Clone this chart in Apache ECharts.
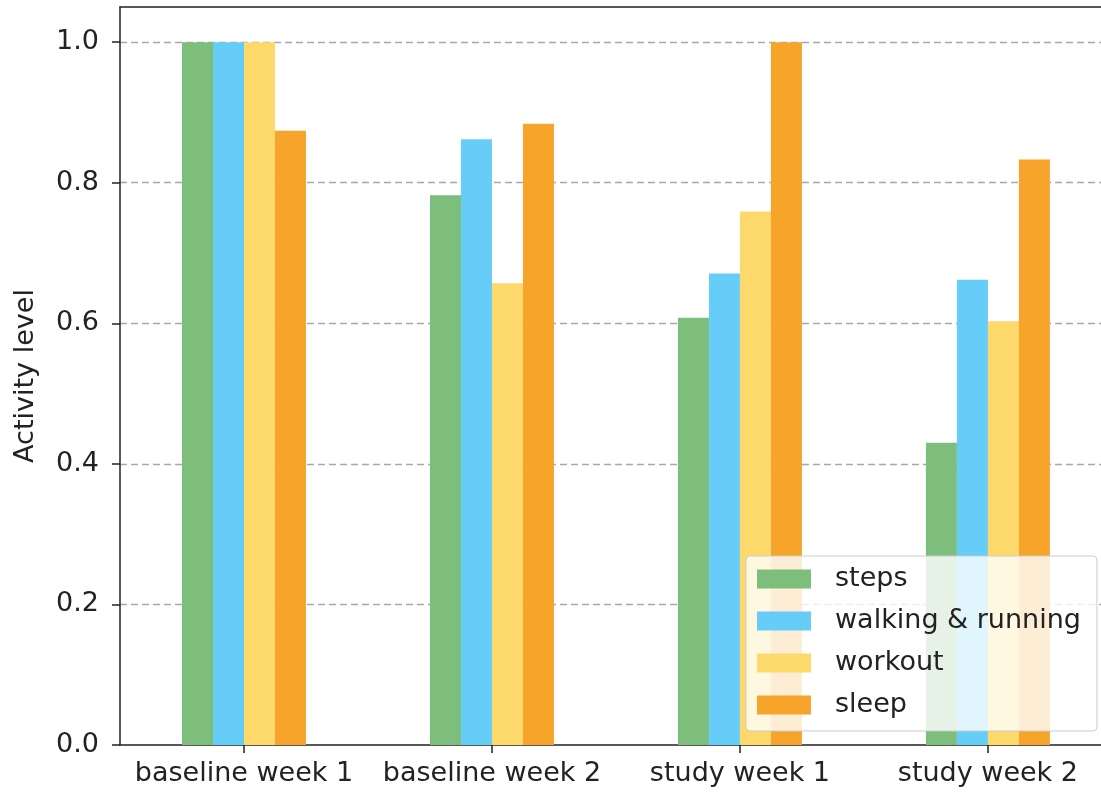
<!DOCTYPE html>
<html>
<head>
<meta charset="utf-8">
<script src="https://cdn.jsdelivr.net/npm/echarts@6/dist/echarts.min.js"></script>
<style>html,body{margin:0;padding:0;background:#fff;}#c{width:1101px;height:797px;}</style>
</head>
<body>
<div id="c"></div>
<script>
const categories = ['baseline week 1', 'baseline week 2', 'study week 1', 'study week 2'];
const seriesNames = ['steps', 'walking & running', 'workout', 'sleep'];
const steps   = [1.0, 0.782, 0.608, 0.430];
const walking = [1.0, 0.862, 0.671, 0.662];
const workout = [1.0, 0.657, 0.759, 0.603];
const sleep   = [0.874, 0.884, 1.0, 0.833];
const yTicks = [0, 0.2, 0.4, 0.6, 0.8, 1.0];
const xTicks = [0, 1, 2, 3];
const colors = ['#7dbe7d', '#66ccf8', '#fdd96b', '#f6a42a'];

const font = 'DejaVu Sans';
const values = [steps, walking, workout, sleep];
const xMin = -0.5, xMax = 3.456;

const chart = echarts.init(document.getElementById('c'), null, {renderer: 'canvas'});
chart.setOption({
  animation: false,
  backgroundColor: '#fff',
  grid: {left: 120, top: 7, right: 0, bottom: 52, show: false},
  legend: {
    left: 746, top: 556, orient: 'vertical',
    data: seriesNames,
    icon: 'rect', itemWidth: 54, itemHeight: 19, itemGap: 12,
    padding: [8, 16, 11, 11],
    backgroundColor: 'rgba(255,255,255,0.8)',
    borderColor: '#cccccc', borderWidth: 1, borderRadius: 4,
    textStyle: {fontFamily: font, fontSize: 27, color: '#222', lineHeight: 30, padding: [0, 0, 0, 19]}
  },
  xAxis: [{
    type: 'value', min: xMin, max: xMax, position: 'bottom',
    axisLine: {show: true, onZero: false, lineStyle: {color: '#222', width: 1.5}},
    axisTick: {show: true, length: 8, customValues: xTicks, lineStyle: {color: '#222', width: 1.5}},
    axisLabel: {fontFamily: font, fontSize: 27, color: '#222', margin: 15, customValues: xTicks,
      hideOverlap: false, showMinLabel: true, showMaxLabel: true,
      formatter: v => categories[Math.round(v)] || ''},
    splitLine: {show: false}
  }, {
    type: 'value', min: xMin, max: xMax, position: 'top',
    axisLine: {show: true, onZero: false, lineStyle: {color: '#222', width: 1.5}},
    axisTick: {show: false}, axisLabel: {show: false}, splitLine: {show: false}
  }],
  yAxis: {
    type: 'value', min: 0, max: 1.05,
    name: 'Activity level', nameLocation: 'middle', nameGap: 81,
    nameTextStyle: {fontFamily: font, fontSize: 27, color: '#222'},
    axisLine: {show: true, onZero: false, lineStyle: {color: '#222', width: 1.5}},
    axisTick: {show: true, length: 8, customValues: yTicks, lineStyle: {color: '#222', width: 1.5}},
    axisLabel: {fontFamily: font, fontSize: 27, color: '#222', margin: 21, customValues: yTicks,
      formatter: v => v.toFixed(1)},
    splitLine: {show: true, showMinLine: false, showMaxLine: true,
      lineStyle: {color: '#a8a8a8', width: 1.3, type: [7, 4]}}
  },
  series: seriesNames.map((n, i) => ({
    name: n, type: 'bar', xAxisIndex: 0,
    data: values[i].map((v, j) => [j, v]),
    barWidth: 31, barGap: '0%',
    itemStyle: {color: colors[i]}
  }))
});
</script>
</body>
</html>
